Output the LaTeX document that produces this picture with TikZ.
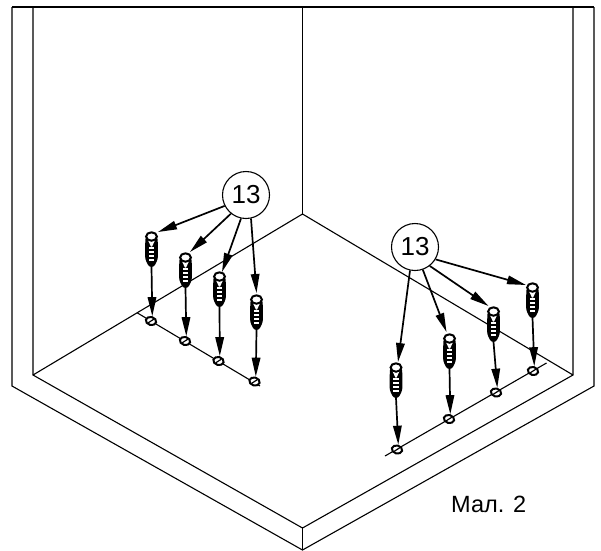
\documentclass[tikz,border=0pt]{standalone}
\usepackage{fontspec}
\setmainfont{Liberation Sans}
\usetikzlibrary{arrows.meta,shapes.geometric}
\tikzset{
  wall/.style={line width=1.1pt,black},
  wallthick/.style={line width=1.5pt,black},
  callout/.style={circle,draw,line width=1.1pt,fill=white,minimum size=47pt,inner sep=0pt,font=\fontsize{26}{26}\selectfont},
  leader/.style={line width=1.7pt,-{Triangle[length=19pt,width=8.5pt]}},
  drop/.style={line width=1.7pt,-{Triangle[length=19pt,width=8.5pt]}},
  hole/.style={ellipse,draw,line width=2pt,fill=white,minimum width=10.5pt,minimum height=8pt,inner sep=0pt,rotate=-15},
  caption/.style={font=\fontsize{23.5}{24}\selectfont,inner sep=0pt}
}
% #1 name, #2 x, #3 y of screw top
\newcommand{\plug}[3]{%
  \begin{scope}[shift={(#2,#3)}]
    \coordinate (#1top) at (0,0);
    \coordinate (#1end) at (0,35);
    \fill[black,rounded corners=2.5pt] (-6.2,5) -- (6.2,5) -- (6.4,27) -- (2.5,35) -- (-2.5,35) -- (-6.4,27) -- cycle;
    \foreach \yy in {15,19,23,27}{\fill[white] (-2.6,\yy) rectangle (2.6,\yy+1.5);}
    \fill[white] (-3.6,8) -- (3.6,8) -- (0.6,14.5) -- (-0.6,14.5) -- cycle;
    \draw[line width=2pt,fill=white] (0,4.5) ellipse (5.4 and 4.2);
  \end{scope}}
\newcommand{\slot}[1]{\draw[line width=1.2pt] ([shift={(-2.8,1.8)}]#1.center) -- ([shift={(2.8,-1.8)}]#1.center);}
\begin{document}
\begin{tikzpicture}[x=1pt,y=-1pt]
\useasboundingbox (0,0) rectangle (601,550);
% room
\coordinate (otl) at (12,7); \coordinate (otr) at (594,7);
\coordinate (itl) at (33,7); \coordinate (itm) at (302.5,7); \coordinate (itr) at (573,7);
\coordinate (ol) at (12,386); \coordinate (or) at (594,386);
\coordinate (il) at (33,375); \coordinate (ir) at (573,375);
\coordinate (back) at (302.5,214);
\coordinate (ib) at (302.5,528); \coordinate (ob) at (302.5,550);
\draw[wallthick] (otl) -- (otr);
\draw[wall] (otl) -- (ol) -- (ob) -- (or) -- (otr);
\draw[wall] (itl) -- (il) -- (ib) -- (ir) -- (itr);
\draw[wall] (itm) -- (back);
\draw[wall] (il) -- (back) -- (ir);
\draw[wall] (ib) -- (ob);
% hole lines
\coordinate (la) at (137.5,313); \coordinate (lb) at (260,386);
\coordinate (ra) at (385,456); \coordinate (rb) at (546.5,363);
\draw[wall] (la) -- (lb);
\draw[wall] (ra) -- (rb);
% holes
\node[hole] (h1) at (151,321) {};
\node[hole] (h2) at (185,341) {};
\node[hole] (h3) at (218.5,361) {};
\node[hole] (h4) at (254.5,381.5) {};
\node[hole] (h5) at (397,449.5) {};
\node[hole] (h6) at (449,419) {};
\node[hole] (h7) at (496,392.5) {};
\node[hole] (h8) at (533,371) {};
\foreach \h in {h1,h2,h3,h4,h5,h6,h7,h8}{\slot{\h}}
% plugs
\plug{s1}{151.5}{232}
\plug{s2}{185.5}{253}
\plug{s3}{219.5}{272}
\plug{s4}{256.5}{295}
\plug{s5}{396}{363}
\plug{s6}{449.5}{334}
\plug{s7}{493.5}{307}
\plug{s8}{532.5}{283}
% drops
\draw[drop] (s1end) -- (h1.north);
\draw[drop] (s2end) -- (h2.north);
\draw[drop] (s3end) -- (h3.north);
\draw[drop] (s4end) -- (h4.north);
\draw[drop] (s5end) -- (h5.north);
\draw[drop] (s6end) -- (h6.north);
\draw[drop] (s7end) -- (h7.north);
\draw[drop] (s8end) -- (h8.north);
% callouts
\node[callout] (c1) at (246,195) {13};
\node[callout] (c2) at (415,247) {13};
\coordinate (t1) at (158,232);
\coordinate (t2) at (190,252);
\coordinate (t3) at (222,272);
\coordinate (t4) at (256.5,293);
\coordinate (t5) at (398,362);
\coordinate (t6) at (446.5,332);
\coordinate (t7) at (488.5,306);
\coordinate (t8) at (526,285);
\draw[leader] (c1.207) -- (t1);
\draw[leader] (c1.231) -- (t2);
\draw[leader] (c1.258) -- (t3);
\draw[leader] (c1.282) -- (t4);
\draw[leader] (c2.258) -- (t5);
\draw[leader] (c2.289) -- (t6);
\draw[leader] (c2.308) -- (t7);
\draw[leader] (c2.329) -- (t8);
\node[caption,anchor=west] (cap) at (451,504) {Мал. 2};
\end{tikzpicture}
\end{document}
